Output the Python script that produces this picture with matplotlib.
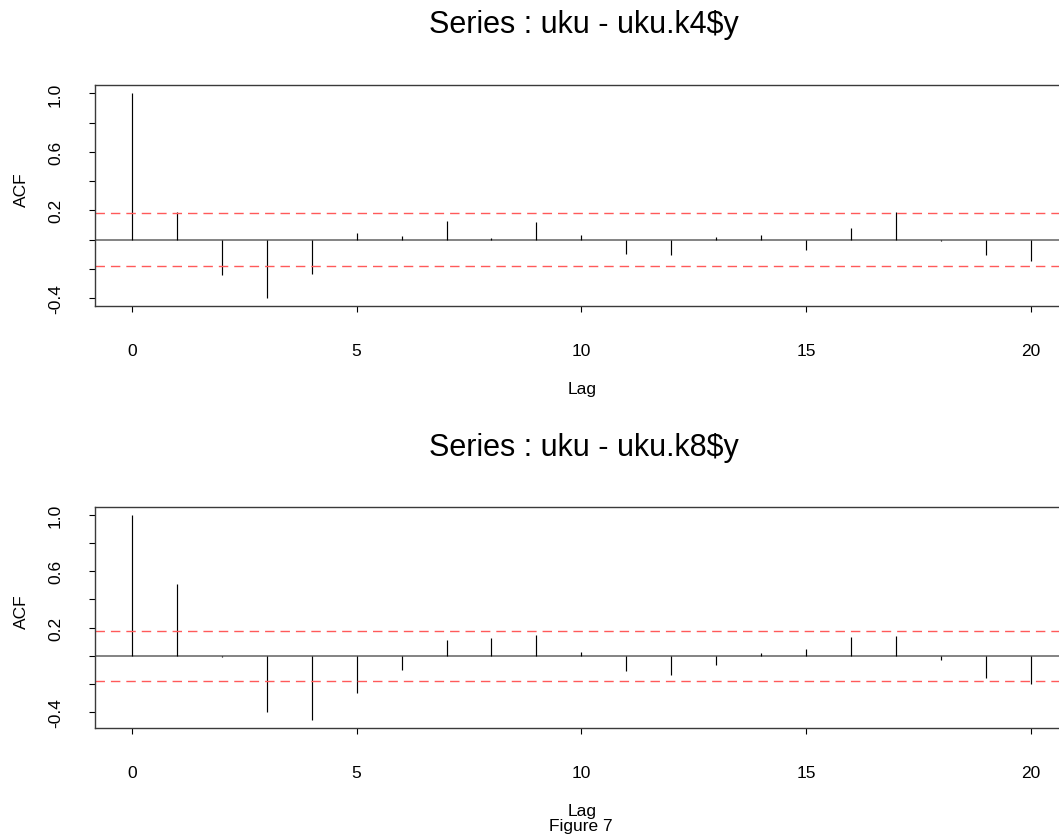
import numpy as np
import matplotlib
matplotlib.use("Agg")
import matplotlib.pyplot as plt

plt.rcParams["font.family"] = ["Liberation Sans", "DejaVu Sans"]

# autocorrelations, lags 0..20
lags = np.arange(0, 21)
acf_k4 = [1.0, 0.189, -0.244, -0.399, -0.237, 0.043, 0.023, 0.128, 0.011, 0.118,
          0.030, -0.100, -0.107, 0.020, 0.030, -0.068, 0.077, 0.189, -0.007, -0.103, -0.144]
acf_k8 = [1.0, 0.512, -0.007, -0.398, -0.457, -0.268, -0.100, 0.111, 0.128, 0.147,
          0.026, -0.107, -0.140, -0.066, 0.019, 0.050, 0.133, 0.140, -0.031, -0.156, -0.200]
ci_k4 = 0.179
ci_k8 = 0.179

titles = ["Series : uku - uku.k4$y", "Series : uku - uku.k8$y"]
ytick_vals = [-0.4, -0.2, 0.0, 0.2, 0.4, 0.6, 0.8, 1.0]
ytick_text = ["-0.4", "", "", "0.2", "", "0.6", "", "1.0"]
xtick_vals = [0, 5, 10, 15, 20]

W, H = 1059, 837
fig = plt.figure(figsize=(W / 100, H / 100), dpi=100)


def fx(px):
    return px / W


def fy(px):
    return 1 - px / H


panels = [
    # (acf, ci, title, top px, bottom px, ylim)
    (acf_k4, ci_k4, titles[0], 86, 307, (-0.454, 1.058)),
    (acf_k8, ci_k8, titles[1], 508.3, 728.7, (-0.512, 1.055)),
]

xlim = (-0.82, 21.0)
px_per_lag = 44.95
left_px = 95

for acf, ci, title, top, bot, ylim in panels:
    width_px = (xlim[1] - xlim[0]) * px_per_lag
    ax = fig.add_axes([fx(left_px), fy(bot), width_px / W, (bot - top) / H])
    ax.set_xlim(*xlim)
    ax.set_ylim(*ylim)

    ax.vlines(lags, 0, acf, color="black", lw=0.85)
    ax.axhline(0, color="#6e6e6e", lw=1.2, zorder=1)
    for c in (ci, -ci):
        ax.axhline(c, color="#ff5a5a", lw=1.0, dashes=(6.8, 4.3))

    ax.set_xticks(xtick_vals)
    ax.set_xticklabels([str(v) for v in xtick_vals])
    ax.set_yticks(ytick_vals)
    ax.set_yticklabels(ytick_text, rotation=90, va="center")
    ax.tick_params(axis="x", direction="out", length=4, width=0.8, pad=23, labelsize=12.5)
    ax.tick_params(axis="y", direction="out", length=4, width=0.8, pad=19, labelsize=12.5)
    for s in ax.spines.values():
        s.set_color("#3a3a3a")
        s.set_linewidth(1.0)
    # box runs off the right edge of the page
    ax.spines["right"].set_visible(False)

    fig.text(fx(584), fy(top - 52.7), title, ha="center", va="baseline", fontsize=22)
    fig.text(fx(21.7), fy((top + bot) / 2 - 6.5), "ACF", rotation=90,
             ha="center", va="center", fontsize=12.5)
    fig.text(fx(582.5), fy(bot + 87.3), "Lag", ha="center", va="baseline", fontsize=12.5)

fig.text(fx(581.3), fy(831), "Figure 7", ha="center", va="baseline", fontsize=12.5)

fig.savefig("out.png", dpi=100)
